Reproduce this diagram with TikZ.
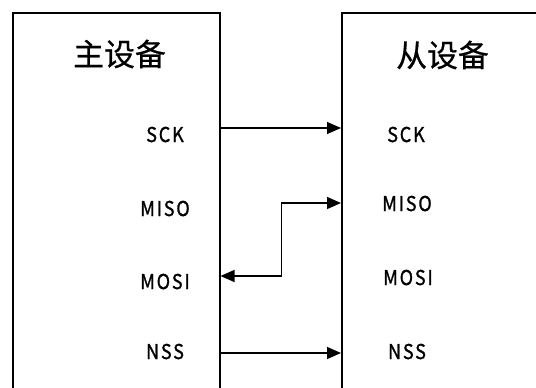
\documentclass[tikz,border=0pt]{standalone}
\usepackage{fontspec}
\setmainfont{Noto Sans CJK SC}
\newfontfamily\pinfont[FakeBold=1.2, FakeStretch=0.88, LetterSpace=9]{Noto Sans CJK SC}
\newfontfamily\titlefont[FakeBold=0.6]{Noto Sans CJK SC}
\usetikzlibrary{arrows.meta}

\begin{document}
\begin{tikzpicture}[x=1bp, y=-1bp,
    device/.style={draw, line width=1.5bp, anchor=north west, inner sep=0pt},
    title/.style={font=\titlefont\fontsize{31}{31}\selectfont},
    pin/.style={anchor=base, font=\pinfont\fontsize{20.5}{20.5}\selectfont},
    sig/.style={line width=1.3bp, -{Triangle[length=14bp,width=12bp]}}]
  % Frame of the picture
  \useasboundingbox (0,0) rectangle (536,387);
  \clip (0,0) rectangle (536,387);

  % The two devices (cut off by the frame)
  \node[device, minimum width=207bp, minimum height=400bp] (master) at (12,12) {};
  \node[device, minimum width=230bp, minimum height=400bp] (slave) at (341,12) {};

  % Titles
  \node[title] (mtitle) at (119.5,54) {主设备};
  \node[title] (stitle) at (442.5,55) {从设备};

  % Pins of the master
  \node[pin] (msck)  at (165,142) {SCK};
  \node[pin] (mmiso) at (165,216) {MISO};
  \node[pin] (mmosi) at (165,289) {MOSI};
  \node[pin] (mnss)  at (165,359) {NSS};

  % Pins of the slave
  \node[pin] (ssck)  at (406,142) {SCK};
  \node[pin] (smiso) at (407,211) {MISO};
  \node[pin] (smosi) at (408,285) {MOSI};
  \node[pin] (snss)  at (407,359) {NSS};

  % Lines between the devices
  \draw[sig] (master.east |- 0,128) -- (slave.west |- 0,128);
  \draw[sig, {Triangle[length=14bp,width=12bp]}-{Triangle[length=14bp,width=12bp]}]
    (master.east |- 0,276) -- ++(61,0) |- (slave.west |- 0,203);
  \draw[sig] (master.east |- 0,353) -- (slave.west |- 0,353);

\end{tikzpicture}
\end{document}
